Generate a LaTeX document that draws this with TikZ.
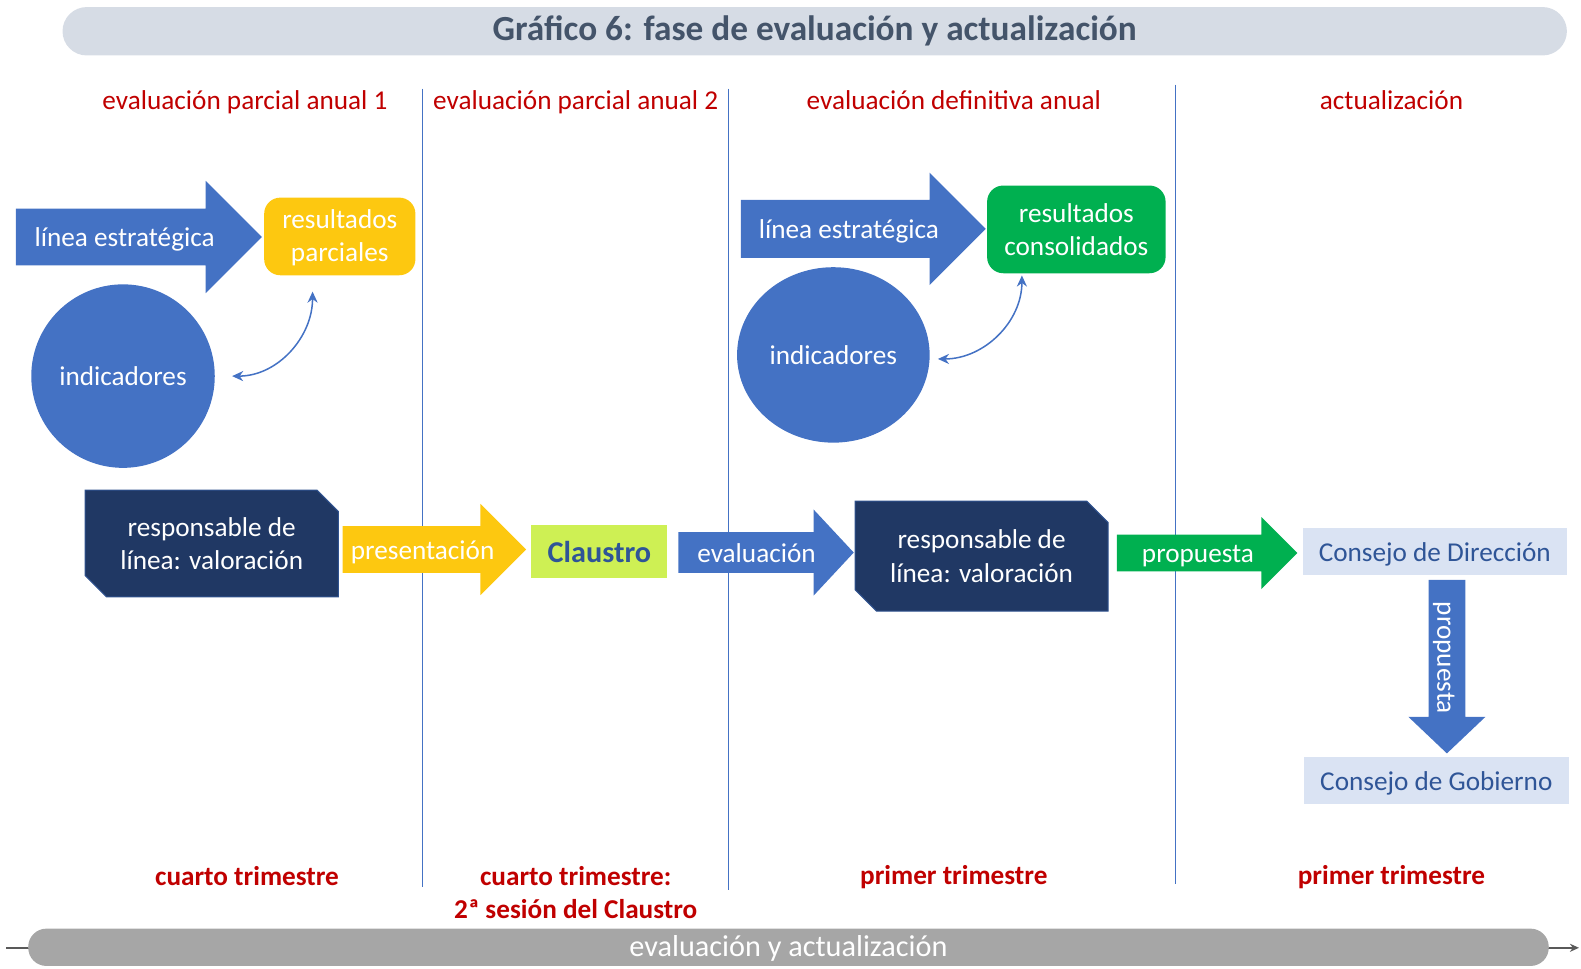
\documentclass[tikz,border=0pt]{standalone}
\usepackage{fontspec}
\setmainfont{Carlito}
\usetikzlibrary{positioning,shapes.arrows,shapes.misc,shapes.geometric,arrows.meta}

\definecolor{azul}{RGB}{68,114,196}
\definecolor{amarillo}{RGB}{253,200,16}
\definecolor{verde}{RGB}{0,176,80}
\definecolor{lima}{RGB}{206,240,84}
\definecolor{marino}{RGB}{32,56,100}
\definecolor{marinoborde}{RGB}{47,82,143}
\definecolor{consejofondo}{RGB}{218,227,243}
\definecolor{consejotexto}{RGB}{47,85,151}
\definecolor{titulofondo}{RGB}{214,220,229}
\definecolor{titulotexto}{RGB}{68,84,106}
\definecolor{rojo}{RGB}{192,0,0}
\definecolor{gris}{RGB}{166,166,166}
\definecolor{grisoscuro}{RGB}{89,89,89}

\begin{document}
\begin{tikzpicture}[
    x=1pt, y=-1pt,
    every node/.style={font=\fontsize{27}{33}\selectfont},
    bigarrow/.style={single arrow, draw=none, text=white, inner xsep=4pt, text height=22pt, text depth=3pt, single arrow tip angle=90},
    result/.style={rounded corners=16pt, text=white, align=center, inner sep=0pt},
    resp/.style={chamfered rectangle, chamfered rectangle corners={north east,south west}, chamfered rectangle xsep=18pt, fill=marino, draw=marinoborde, line width=1pt, text=white, align=center, minimum width=251pt, minimum height=106pt},
    consejo/.style={fill=consejofondo, text=consejotexto, minimum width=262pt, minimum height=46pt, inner sep=0pt, text height=22pt, text depth=3pt},
    phase/.style={text=rojo, text height=22pt, text depth=3pt},
    period/.style={text=rojo, font=\fontsize{27}{33}\selectfont\bfseries},
    sep/.style={draw=azul, line width=0.8pt},
    dbl/.style={{Stealth[length=11pt,width=10pt]}-{Stealth[length=11pt,width=10pt]}, draw=azul, line width=1.5pt}
]
\useasboundingbox (0,0) rectangle (1568,961);

% Title and phases
\node[fill=titulofondo, rounded corners=24pt, minimum width=1492pt, minimum height=48pt, text=titulotexto, font=\fontsize{35}{42}\selectfont\bfseries] (title) at (808,31) {Gráfico 6: fase de evaluación y actualización};
\node[phase] (ph1) at (243,99) {evaluación parcial anual 1};
\node[phase] (ph2) at (571,99) {evaluación parcial anual 2};
\node[phase] (ph3) at (946,99) {evaluación definitiva anual};
\node[phase] (ph4) at (1380,99) {actualización};

% Phase separators
\draw[sep] (419,88) -- (419,880);
\draw[sep] (722,88) -- (722,883);
\draw[sep] (1166,84) -- (1166,877);

% First partial evaluation
\node[bigarrow, fill=azul, anchor=tip, minimum height=244pt, inner ysep=15.5pt, single arrow head extend=27.5pt] (lin1) at (260,235) {línea estratégica};
\node[result, fill=amarillo, minimum width=150pt, minimum height=77pt] (res1) at (337,234.5) {\rule{0pt}{22pt}resultados\\parciales};
\node[circle, fill=azul, text=white, minimum size=182pt, inner sep=0pt] (ind1) at (122,373) {indicadores};
\draw[dbl] ([xshift=17pt]ind1.east) to[out=0, in=-90] ([xshift=-27pt, yshift=-16pt]res1.south);

% Valuation chain
\node[resp] (resp1) at (210,539) {responsable de\\línea: valoración};
\node[bigarrow, fill=amarillo, anchor=tip, minimum height=182pt, inner ysep=10.5pt, single arrow head extend=22pt] (pres) at (522,545) {presentación};
\node[fill=lima, text=consejotexto, minimum width=135pt, minimum height=52pt, inner sep=0pt, font=\fontsize{30}{36}\selectfont\bfseries] (claus) at (594.5,547) {Claustro};
\node[bigarrow, fill=azul, anchor=tip, minimum height=174pt, inner ysep=7.5pt, single arrow head extend=22.5pt, single arrow tip angle=94] (eval) at (847,548) {evaluación};

% Final annual evaluation
\node[bigarrow, fill=azul, anchor=tip, minimum height=243pt, inner ysep=16pt, single arrow head extend=27pt] (lin2) at (978,227) {línea estratégica};
\node[result, fill=verde, minimum width=177pt, minimum height=87pt] (res2) at (1067.5,227.5) {resultados\\consolidados};
\node[ellipse, fill=azul, text=white, minimum width=191pt, minimum height=174pt, inner sep=0pt] (ind2) at (826.5,352) {indicadores};
\draw[dbl] ([xshift=8pt, yshift=-4pt]ind2.east) to[out=0, in=-90] ([xshift=-54pt, yshift=-2pt]res2.south);
\node[resp, minimum height=109pt] (resp2) at (973.5,551.5) {responsable de\\línea: valoración};
\node[bigarrow, fill=verde, anchor=tip, minimum height=179pt, inner ysep=5.5pt, single arrow head extend=17.5pt] (prop1) at (1287,548.5) {propuesta};

% Update
\node[consejo] (cd) at (1423,547) {Consejo de Dirección};
\node[bigarrow, fill=azul, rotate=-90, anchor=tail, minimum height=172pt, inner ysep=5.5pt, single arrow head extend=20pt, single arrow tip angle=93] (prop2) at (1435,575) {propuesta};
\node[consejo, minimum width=263pt, minimum height=47pt] (cg) at (1424.5,774) {Consejo de Gobierno};

% Periods
\node[period] (per1) at (245,869) {cuarto trimestre};
\node[period] (per2) at (571,869) {cuarto trimestre:};
\node[period] (per2b) at (571,902) {2ª sesión del Claustro};
\node[period] (per3) at (946,870) {primer trimestre};
\node[period] (per4) at (1380,870) {primer trimestre};

% Time axis
\coordinate (ax0) at (6,940);
\coordinate (ax1) at (1566,940);
\draw[-{Stealth[length=9pt,width=8pt]}, draw=grisoscuro, line width=2pt] (ax0) -- (ax1);
\node[fill=gris, rounded corners=18pt, minimum width=1508pt, minimum height=37pt, inner sep=0pt, text=white, font=\fontsize{30}{36}\selectfont, text height=22pt, text depth=4pt] (bar) at (782,939.5) {evaluación y actualización};

\end{tikzpicture}
\end{document}
